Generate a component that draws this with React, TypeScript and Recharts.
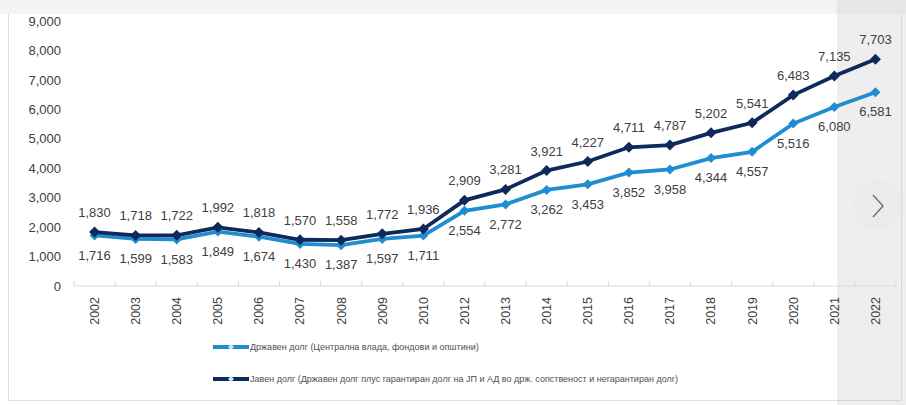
import React from "react";
import { LineChart, Line, XAxis, YAxis, LabelList, Legend } from "recharts";

const years = ["2002","2003","2004","2005","2006","2007","2008","2009","2010","2012","2013","2014","2015","2016","2017","2018","2019","2020","2021","2022"];
const stateDebt = [1716,1599,1583,1849,1674,1430,1387,1597,1711,2554,2772,3262,3453,3852,3958,4344,4557,5516,6080,6581];
const publicDebt = [1830,1718,1722,1992,1818,1570,1558,1772,1936,2909,3281,3921,4227,4711,4787,5202,5541,6483,7135,7703];
const yTicks = [0,1000,2000,3000,4000,5000,6000,7000,8000,9000];
const seriesNames = [
  "Државен долг (Централна влада, фондови и општини)",
  "Јавен долг (Државен долг плус гарантиран долг на ЈП и АД во држ. сопственост и негарантиран долг)",
];

const LIGHT = "#1f8dd0";
const DARK = "#0e2a5c";
const FONT = "'Liberation Sans', Arial, sans-serif";
const BAND = 822 / years.length;

const data = years.map((y, i) => ({ year: y, state: stateDebt[i], pub: publicDebt[i] }));

const fmt = (v: any) => Number(v).toLocaleString("en-US");

const Diamond = (color: string, r: number) => (props: any) => {
  const { cx, cy, index } = props;
  if (cx == null || cy == null) return <g key={index} />;
  return (
    <polygon
      key={index}
      points={`${cx},${cy - r} ${cx + r},${cy} ${cx},${cy + r} ${cx - r},${cy}`}
      fill={color}
    />
  );
};

const XTick = (props: any) => {
  const { x, y, payload, index } = props;
  const ay = y - 8;
  return (
    <g>
      <line x1={x - BAND / 2} x2={x - BAND / 2} y1={ay - 5} y2={ay} stroke="#d9d9d9" />
      {index === years.length - 1 && (
        <line x1={x + BAND / 2} x2={x + BAND / 2} y1={ay - 5} y2={ay} stroke="#d9d9d9" />
      )}
      <text
        transform={`translate(${x},${y + 3}) rotate(-90)`}
        textAnchor="end"
        dy="0.35em"
        fontSize={12.5}
        fill="#404040"
        fontFamily={FONT}
      >
        {payload.value}
      </text>
    </g>
  );
};

const LegendContent = () => (
  <div style={{ fontFamily: FONT, fontSize: 9, color: "#505050" }}>
    {[LIGHT, DARK].map((c, i) => (
      <div key={i} style={{ display: "flex", alignItems: "center", height: 14, marginBottom: i === 0 ? 18 : 0 }}>
        <svg width={36} height={10} style={{ marginRight: 1 }}>
          <line x1={0} x2={36} y1={5} y2={5} stroke={c} strokeWidth={4} />
          <polygon points="18,2 21,5 18,8 15,5" fill="#cfe3f3" />
        </svg>
        <span style={{ whiteSpace: "nowrap" }}>{seriesNames[i]}</span>
      </div>
    ))}
  </div>
);

export default function App() {
  return (
    <div style={{ position: "absolute", left: 0, top: 0, width: 906, height: 405, background: "#ffffff", overflow: "hidden" }}>
      <div style={{ position: "absolute", left: 0, top: 0, width: 906, height: 14, background: "#f4f4f4" }} />
      <div style={{ position: "absolute", left: 8, top: 14, width: 894, height: 387, borderLeft: "1px solid #dedede", borderBottom: "1px solid #dedede", borderRight: "1px solid #dedede", boxSizing: "border-box" }} />
      <div style={{ position: "absolute", left: 837, top: 0, width: 69, height: 405, background: "rgba(200,200,200,0.3)" }} />
      <div style={{ position: "absolute", left: 0, top: 0 }}>
        <LineChart width={906} height={405} data={data} margin={{ top: 21, right: 10, left: 14, bottom: 69 }}>
          <XAxis
            dataKey="year"
            height={50}
            interval={0}
            padding={{ left: BAND / 2, right: BAND / 2 }}
            tick={<XTick />}
            tickLine={false}
            axisLine={{ stroke: "#d9d9d9" }}
          />
          <YAxis
            width={60}
            domain={[0, 9000]}
            ticks={yTicks}
            interval={0}
            tickFormatter={fmt}
            axisLine={false}
            tickLine={false}
            tickMargin={7}
            tick={{ fontSize: 13, fill: "#404040", fontFamily: FONT }}
          />
          <Legend
            layout="vertical"
            align="center"
            verticalAlign="middle"
            content={<LegendContent />}
            wrapperStyle={{ position: "absolute", left: 213, top: 340, width: 600, height: 50 }}
          />
          <Line
            dataKey="state"
            name={seriesNames[0]}
            stroke={LIGHT}
            strokeWidth={3.8}
            dot={Diamond(LIGHT, 5)}
            activeDot={false}
            isAnimationActive={false}
          >
            <LabelList dataKey="state" position="bottom" offset={15} formatter={fmt} fontSize={13} fill="#404040" fontFamily={FONT} />
          </Line>
          <Line
            dataKey="pub"
            name={seriesNames[1]}
            stroke={DARK}
            strokeWidth={3.8}
            dot={Diamond(DARK, 5.5)}
            activeDot={false}
            isAnimationActive={false}
          >
            <LabelList dataKey="pub" position="top" offset={15} formatter={fmt} fontSize={13} fill="#404040" fontFamily={FONT} />
          </Line>
        </LineChart>
      </div>
      <div style={{ position: "absolute", left: 853, top: 180, width: 50, height: 50, borderRadius: 25, background: "rgba(225,225,225,0.2)" }} />
      <svg style={{ position: "absolute", left: 870, top: 193 }} width={16} height={26}>
        <polyline points="3,2 13,13 3,24" fill="none" stroke="#6e6e6e" strokeWidth={1.4} />
      </svg>
    </div>
  );
}
